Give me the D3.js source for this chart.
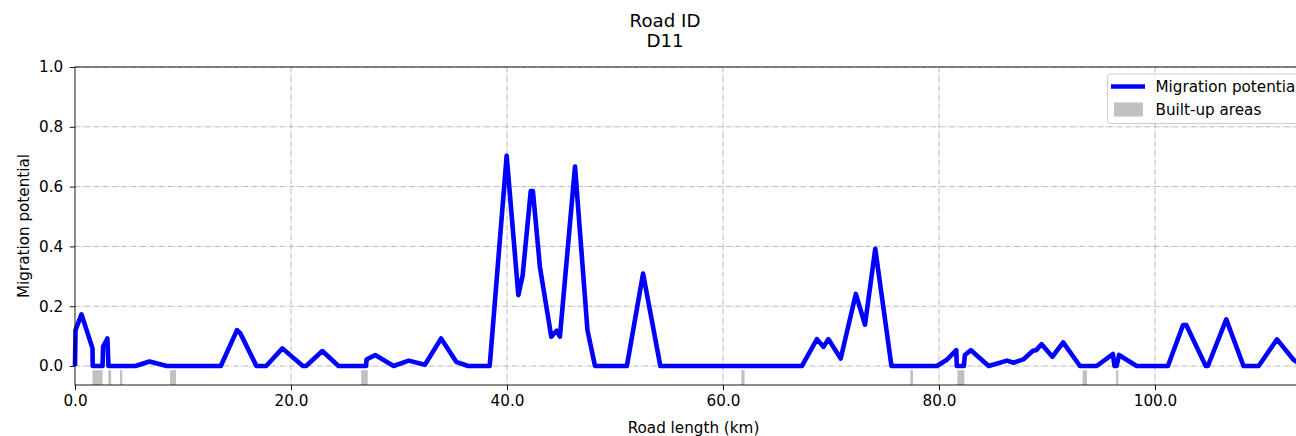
<!DOCTYPE html>
<html>
<head>
<meta charset="utf-8">
<script src="https://cdn.jsdelivr.net/npm/d3@7"></script>
<style>
  html, body { margin: 0; padding: 0; background: #fff; }
  svg { display: block; font-family: "DejaVu Sans", sans-serif; }
</style>
</head>
<body>
<svg id="chart" width="1296" height="436"></svg>
<script>
// ---- data ----
const titleLines = ["Road ID", "D11"];
const xLabel = "Road length (km)";
const yLabel = "Migration potential";
const seriesName = "Migration potential";
const builtName = "Built-up areas";

const roadKm = [0, 0.05, 0.6, 1.62, 1.64, 2.55, 2.6, 3.0, 3.1, 5.6, 6.9, 8.5, 13.5, 15.0, 15.3, 16.8, 17.7, 19.2, 21.1, 21.4,
  22.9, 24.4, 26.95, 27.0, 27.8, 29.5, 30.9, 32.4, 33.9, 35.3, 36.4, 38.4, 39.97, 41.05, 41.45, 42.2, 42.4, 43.05, 44.1, 44.6,
  44.9, 46.3, 47.45, 48.15, 51.1, 52.6, 54.2, 67.3, 68.7, 69.3, 69.75, 70.9, 72.3, 73.15, 74.1, 75.6, 79.8, 80.7, 81.6, 81.65,
  82.3, 82.4, 82.96, 84.6, 86.3, 86.9, 87.8, 88.7, 89.0, 89.5, 90.5, 91.5, 93.05, 94.6, 96.1, 96.25, 96.45, 96.67, 98.3, 101.2,
  102.6, 102.9, 104.7, 104.9, 106.6, 108.2, 109.6, 111.3, 112.85, 113.3, 114.5];
const potential = [0, 0.12, 0.173, 0.059, 0, 0, 0.065, 0.092, 0, 0, 0.015, 0, 0, 0.12, 0.11, 0, 0, 0.059, 0, 0,
  0.05, 0, 0, 0.022, 0.037, 0, 0.018, 0.004, 0.092, 0.014, 0, 0, 0.703, 0.237, 0.303, 0.585, 0.585, 0.331, 0.098, 0.118,
  0.098, 0.667, 0.12, 0, 0, 0.309, 0, 0, 0.09, 0.064, 0.09, 0.025, 0.241, 0.138, 0.392, 0, 0, 0.02, 0.053, 0,
  0, 0.037, 0.053, 0, 0.018, 0.011, 0.022, 0.051, 0.053, 0.073, 0.031, 0.079, 0, 0, 0.04, 0, 0, 0.037, 0, 0,
  0.137, 0.137, 0, 0, 0.156, 0, 0, 0.089, 0.02, 0.01, 0.0];

const builtStart = [1.62, 3.08, 4.17, 8.8, 26.5, 61.7, 77.35, 81.7, 93.3, 96.4];
const builtEnd   = [2.55, 3.35, 4.38, 9.35, 27.1, 62.0, 77.6, 82.35, 93.7, 96.6];

const xTicks = [0, 20, 40, 60, 80, 100];
const yTicks = [0.0, 0.2, 0.4, 0.6, 0.8, 1.0];
const xDomain = [0, 114.54];
const yDomain = [-0.0635, 1.0];
const builtBand = [-0.0635, -0.014];

// ---- layout ----
const svg = d3.select("#chart");
const pLeft = 75, pTop = 67, pRight = 1312, pBottom = 385;
const x = d3.scaleLinear().domain(xDomain).range([pLeft, pRight]);
const y = d3.scaleLinear().domain(yDomain).range([pBottom, pTop]);

const fs = 15.2;

// grid
const dash = "5.6,1.4,0.9,1.4";
svg.append("g").selectAll("line").data(xTicks.filter(d => d > 0)).join("line")
  .attr("x1", d => x(d)).attr("x2", d => x(d)).attr("y1", pTop).attr("y2", pBottom)
  .attr("stroke", "#b0b0b0").attr("stroke-width", 0.9).attr("stroke-dasharray", dash);
svg.append("g").selectAll("line").data(yTicks).join("line")
  .attr("x1", pLeft).attr("x2", pRight).attr("y1", d => y(d)).attr("y2", d => y(d))
  .attr("stroke", "#b0b0b0").attr("stroke-width", 0.9).attr("stroke-dasharray", dash);

// built-up areas
svg.append("g").selectAll("rect").data(builtStart.map((s, i) => [s, builtEnd[i]])).join("rect")
  .attr("x", d => x(d[0])).attr("width", d => Math.max(1.5, x(d[1]) - x(d[0])))
  .attr("y", y(builtBand[1])).attr("height", y(builtBand[0]) - y(builtBand[1]))
  .attr("fill", "#c0c0c0");

// line
const pts = roadKm.map((k, i) => [k, potential[i]]);
svg.append("path").datum(pts)
  .attr("d", d3.line().x(d => x(d[0])).y(d => y(d[1])))
  .attr("fill", "none").attr("stroke", "#0000ff").attr("stroke-width", 4.6)
  .attr("stroke-linejoin", "round").attr("stroke-linecap", "butt");

// spines
svg.append("rect").attr("x", pLeft).attr("y", pTop).attr("width", pRight - pLeft).attr("height", pBottom - pTop)
  .attr("fill", "none").attr("stroke", "#000").attr("stroke-width", 0.9);

// axes
const xAxis = d3.axisBottom(x).tickValues(xTicks).tickFormat(d3.format(".1f")).tickSize(5.3).tickPadding(5.3);
const gx = svg.append("g").attr("transform", `translate(0,${pBottom})`).call(xAxis);
const yAxis = d3.axisLeft(y).tickValues(yTicks).tickFormat(d3.format(".1f")).tickSize(5.3).tickPadding(6.5);
const gy = svg.append("g").attr("transform", `translate(${pLeft},0)`).call(yAxis);
[gx, gy].forEach(g => {
  g.select(".domain").remove();
  g.selectAll("line").attr("stroke", "#000").attr("stroke-width", 0.9);
  g.selectAll("text").attr("font-size", fs).attr("fill", "#000").attr("font-family", "DejaVu Sans");
});

// labels
svg.append("text").attr("x", x((xDomain[0] + xDomain[1]) / 2)).attr("y", 433)
  .attr("text-anchor", "middle").attr("font-size", fs).attr("fill", "#000").text(xLabel);
svg.append("text").attr("transform", `translate(29,${(pTop + pBottom) / 2}) rotate(-90)`)
  .attr("text-anchor", "middle").attr("font-size", fs).attr("fill", "#000").text(yLabel);

// title
svg.append("g").selectAll("text").data(titleLines).join("text")
  .attr("x", 665).attr("y", (d, i) => 26.5 + i * 20.5)
  .attr("text-anchor", "middle").attr("font-size", 18.2).attr("fill", "#000").text(d => d);

// legend
const lg = svg.append("g");
lg.append("rect").attr("x", 1107.5).attr("y", 74).attr("width", 210).attr("height", 49.5)
  .attr("rx", 3).attr("fill", "#fff").attr("fill-opacity", 0.8).attr("stroke", "#cccccc").attr("stroke-width", 1);
lg.append("line").attr("x1", 1111).attr("x2", 1145).attr("y1", 86.5).attr("y2", 86.5)
  .attr("stroke", "#0000ff").attr("stroke-width", 4.6);
lg.append("rect").attr("x", 1114).attr("y", 102.5).attr("width", 29).attr("height", 14).attr("fill", "#c0c0c0");
lg.append("text").attr("x", 1155.5).attr("y", 92).attr("font-size", fs).attr("fill", "#000").text(seriesName);
lg.append("text").attr("x", 1155.5).attr("y", 115).attr("font-size", fs).attr("fill", "#000").text(builtName);
</script>
</body>
</html>
